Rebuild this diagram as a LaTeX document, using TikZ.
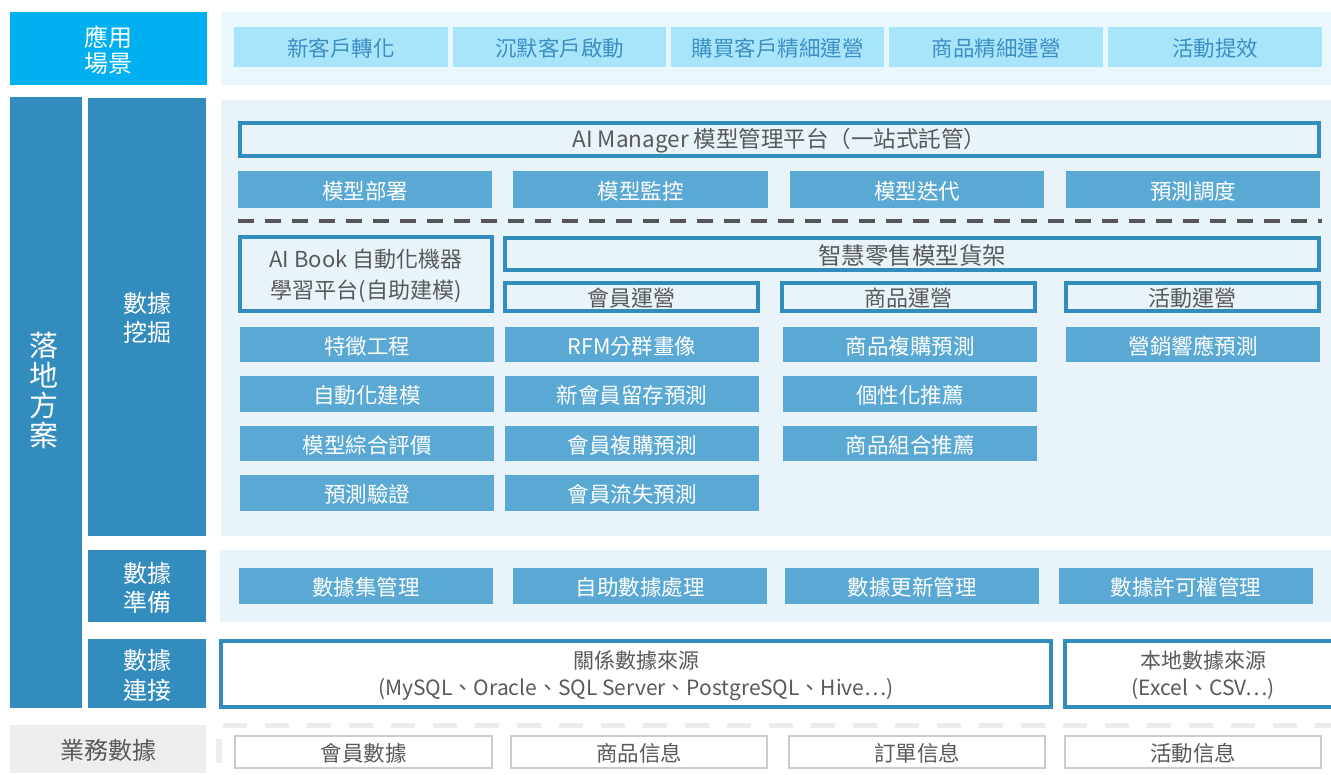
\documentclass[tikz,border=0pt]{standalone}
\usepackage{fontspec}
\setmainfont{Noto Sans CJK TC}
\definecolor{topblue}{HTML}{00B0F0}
\definecolor{toppanel}{HTML}{E8F8FE}
\definecolor{topitemc}{HTML}{A9E5FA}
\definecolor{topitemtext}{HTML}{3B8FC4}
\definecolor{darkblue}{HTML}{338CBE}
\definecolor{panelc}{HTML}{E8F4FA}
\definecolor{midblue}{HTML}{5AA9D4}
\definecolor{dashgray}{HTML}{555555}
\definecolor{txtgray}{HTML}{595959}
\definecolor{lgray}{HTML}{EDEDED}
\definecolor{lborder}{HTML}{CCCCCC}
\definecolor{ldash}{HTML}{EBEBEB}
\tikzset{
  base/.style={inner sep=0pt, outer sep=0pt, align=center},
  head/.style={base, fill=darkblue, text=white, font=\fontsize{24}{29}\selectfont},
  topitem/.style={base, fill=topitemc, text=topitemtext, font=\fontsize{21.5}{26}\selectfont},
  fitem/.style={base, fill=midblue, text=white, font=\fontsize{21.5}{26}\selectfont},
  obox/.style={base, draw=darkblue, line width=3.5pt, fill=panelc, text=txtgray, font=\fontsize{22}{31}\selectfont},
  panel/.style={base, fill=panelc},
  gbox/.style={base, draw=lborder, line width=2.5pt, fill=white, text=txtgray, font=\fontsize{21.5}{26}\selectfont},
  lbl/.style={base, text=white, font=\fontsize{24}{29}\selectfont},
  txt/.style={fill=none, draw=none, minimum width=0pt, minimum height=0pt},
}
% \bx{style}{name}{x1}{y1}{x2}{y2}{text}  (text node shifted slightly down)
\newcommand\bx[7]{%
  \pgfmathsetmacro\bw{#5-#3}\pgfmathsetmacro\bh{#6-#4}%
  \node[#1, minimum width=\bw pt, minimum height=\bh pt] (#2) at ({(#3+#5)/2},{(#4+#6)/2}) {};
  \node[#1, txt] (#2t) at ([yshift=-1.5pt]#2.center) {#7};}
\begin{document}
\begin{tikzpicture}[x=1pt, y=-1pt]
\useasboundingbox (0,0) rectangle (1331,774);
\clip (0,0) rectangle (1331,774);
% top row
\bx{head, fill=topblue, font=\fontsize{24}{25.5}\selectfont}{app}{10}{12}{207}{85}{應用\\場景}
\bx{panel, fill=toppanel}{toppan}{221}{12}{1345}{85}{}
\bx{topitem}{t1}{234}{27}{448}{67}{新客戶轉化}
\bx{topitem}{t2}{453}{27}{666}{67}{沉默客戶啟動}
\bx{topitem}{t3}{671}{27}{884}{67}{購買客戶精細運營}
\bx{topitem}{t4}{889}{27}{1103}{67}{商品精細運營}
\bx{topitem}{t5}{1108}{27}{1322}{67}{活動提效}
% left column
\bx{head}{ldfa}{10}{97}{82}{708}{}
\node[lbl, font=\fontsize{29}{30}\selectfont] (ldfat) at (44,390) {落\\地\\方\\案};
% data mining
\bx{head}{mine}{88}{98}{206}{536}{}
\node[lbl, font=\fontsize{24}{29}\selectfont] (minet) at (147,318) {數據\\挖掘};
\bx{panel}{minepan}{221}{100}{1345}{536}{}
\bx{obox, font=\fontsize{22.5}{27}\selectfont}{aim}{240}{123}{1319}{156}{AI Manager 模型管理平台（一站式託管）}
\bx{fitem}{m1}{238}{171}{492}{208}{模型部署}
\bx{fitem}{m2}{513}{171}{768}{208}{模型監控}
\bx{fitem}{m3}{790}{171}{1044}{208}{模型迭代}
\bx{fitem}{m4}{1066}{171}{1320}{208}{預測調度}
\coordinate (dl1) at (238,221);
\coordinate (dl2) at (1322,221);
\draw[dashgray, line width=4pt, dash pattern=on 16pt off 11pt] (dl1) -- (dl2);
\bx{obox}{aib}{240}{237}{492}{311}{AI Book 自動化機器\\學習平台(自助建模)}
\bx{obox, font=\fontsize{23.5}{28}\selectfont}{shelf}{505}{238}{1319}{270}{智慧零售模型貨架}
\bx{obox}{op1}{505}{283}{758}{311}{會員運營}
\bx{obox}{op2}{782}{283}{1035}{311}{商品運營}
\bx{obox}{op3}{1066}{283}{1319}{311}{活動運營}
\bx{fitem}{a1}{240}{327}{494}{362}{特徵工程}
\bx{fitem}{a2}{240}{376}{494}{412}{自動化建模}
\bx{fitem}{a3}{240}{426}{494}{461}{模型綜合評價}
\bx{fitem}{a4}{240}{475}{494}{511}{預測驗證}
\bx{fitem}{b1}{505}{327}{759}{362}{RFM分群畫像}
\bx{fitem}{b2}{505}{376}{759}{412}{新會員留存預測}
\bx{fitem}{b3}{505}{426}{759}{461}{會員複購預測}
\bx{fitem}{b4}{505}{475}{759}{511}{會員流失預測}
\bx{fitem}{c1}{783}{327}{1037}{362}{商品複購預測}
\bx{fitem}{c2}{783}{376}{1037}{412}{個性化推薦}
\bx{fitem}{c3}{783}{426}{1037}{461}{商品組合推薦}
\bx{fitem}{d1}{1066}{327}{1320}{362}{營銷響應預測}
% data preparation
\bx{head, font=\fontsize{24}{29}\selectfont}{prep}{88}{550}{206}{622}{數據\\準備}
\bx{panel}{preppan}{220}{550}{1345}{622}{}
\bx{fitem}{p1}{239}{568}{493}{604}{數據集管理}
\bx{fitem}{p2}{513}{568}{767}{604}{自助數據處理}
\bx{fitem}{p3}{785}{568}{1039}{604}{數據更新管理}
\bx{fitem}{p4}{1059}{568}{1313}{604}{數據許可權管理}
% data connection
\bx{head, font=\fontsize{24}{30}\selectfont}{conn}{88}{639}{206}{708}{數據\\連接}
\bx{obox, fill=white, font=\fontsize{21}{27}\selectfont}{rel}{221}{641}{1051}{707}{關係數據來源\\(MySQL、Oracle、SQL Server、PostgreSQL、Hive…)}
\bx{obox, fill=white, font=\fontsize{21}{27}\selectfont}{loc}{1065}{641}{1341}{707}{本地數據來源\\(Excel、CSV…)}
% business data
\coordinate (bd1) at (223,725);
\coordinate (bd2) at (1335,725);
\draw[ldash, line width=5pt, dash pattern=on 24pt off 18pt] (bd1) -- (bd2);
\bx{base, fill=lgray, text=txtgray, font=\fontsize{24}{28}\selectfont}{biz}{10}{725}{206}{773}{業務數據}
\bx{base, fill=lgray}{bar}{216}{739}{222}{763}{}
\bx{gbox}{g1}{235}{736}{492}{768}{會員數據}
\bx{gbox}{g2}{511}{736}{767}{768}{商品信息}
\bx{gbox}{g3}{789}{736}{1045}{768}{訂單信息}
\bx{gbox}{g4}{1065}{736}{1321}{768}{活動信息}
\end{tikzpicture}
\end{document}
